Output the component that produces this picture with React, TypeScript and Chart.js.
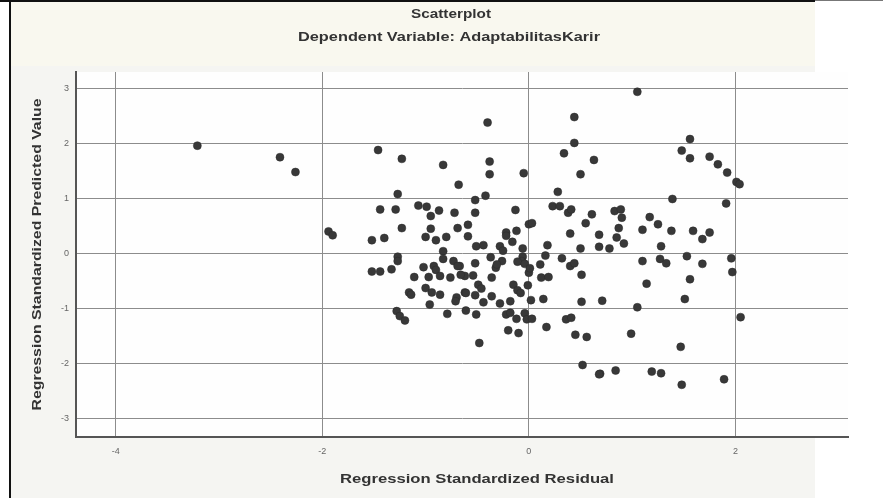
import React, { useEffect, useRef } from "react";
import { Chart, registerables } from "chart.js";

Chart.register(...registerables);

// Regression Standardized Residual (x) and Regression Standardized Predicted Value (y)
const residuals: number[] = [
  -3.21, -2.41, -2.26, -1.94, -1.9, -0.4, 0.44, 0.44, -1.46, -1.23,
  -0.83, 0.34, 0.63, -0.38, -0.38, -0.05, 0.5, -0.68, -1.27, 0.28,
  -0.42, -0.52, -1.44, -1.29, -1.07, -0.99, -0.87, -0.95, -0.72, -0.52,
  -0.13, 0.23, 0.3, 0.38, 0.41, 0.61, 0.55, -1.23, -0.95, -0.69,
  -0.59, -1.52, -1.4, -1.0, -0.9, -0.8, -0.59, 0.0, 0.03, -0.22,
  -0.22, -0.12, -0.16, 0.4, 0.68, 0.18, -0.51, -0.44, -0.28, -0.06,
  0.5, 0.68, 1.05, 1.56, 1.48, 1.56, 1.75, 1.83, 1.92, 2.01,
  2.04, 1.39, 1.91, 0.83, 0.89, 0.9, 1.17, 1.25, 1.1, 0.87,
  1.38, 1.59, 1.75, 1.68, 0.85, 0.92, 1.28, 0.78, 1.1, 1.27,
  1.33, 1.53, 1.68, 1.96, 1.97, 1.56, 1.14, 0.71, 1.51, 1.05,
  2.05, 0.99, 1.47, 0.84, 1.19, 1.28, 0.69, 1.48, 1.89, 0.51,
  0.51, -0.25, -0.06, -0.07, -0.37, 0.16, 0.32, -0.52, -0.26, -0.32,
  -0.31, -0.11, -0.04, 0.11, 0.4, 0.44, -0.67, -0.62, -0.54, -0.36,
  0.0, 0.01, 0.12, 0.19, -0.49, -0.46, -0.62, -0.15, -0.11, -0.08,
  -0.01, -0.52, -0.36, -0.44, -0.28, -0.18, 0.02, 0.14, -0.83, -0.83,
  -1.27, -1.27, -1.52, -1.44, -1.33, -1.02, -0.92, -0.9, -0.73, -0.69,
  -1.11, -0.97, -0.86, -0.76, -0.66, -1.16, -1.14, -1.0, -0.94, -0.86,
  -0.7, -0.71, -0.61, -0.96, -1.28, -1.25, -1.2, -0.79, -0.61, -0.51,
  -0.22, -0.18, -0.12, -0.04, -0.02, 0.03, 0.36, 0.41, -0.2, -0.1,
  0.17, 0.45, 0.56, -0.48, 0.52, 0.68,
];

const predicted: number[] = [
  1.96, 1.75, 1.48, 0.4, 0.33, 2.38, 2.48, 2.01, 1.88, 1.72,
  1.61, 1.82, 1.7, 1.67, 1.44, 1.46, 1.44, 1.25, 1.08, 1.12,
  1.05, 0.97, 0.8, 0.8, 0.87, 0.85, 0.78, 0.68, 0.74, 0.74,
  0.79, 0.86, 0.86, 0.74, 0.8, 0.71, 0.55, 0.46, 0.45, 0.46,
  0.52, 0.24, 0.28, 0.3, 0.24, 0.3, 0.31, 0.53, 0.55, 0.38,
  0.32, 0.41, 0.21, 0.36, 0.34, 0.15, 0.13, 0.15, 0.13, 0.09,
  0.09, 0.12, 2.94, 2.08, 1.87, 1.73, 1.76, 1.62, 1.47, 1.3,
  1.26, 0.99, 0.91, 0.77, 0.8, 0.65, 0.66, 0.53, 0.43, 0.46,
  0.41, 0.41, 0.38, 0.26, 0.29, 0.18, 0.13, 0.09, -0.14, -0.1,
  -0.18, -0.05, -0.19, -0.09, -0.34, -0.47, -0.55, -0.86, -0.83, -0.98,
  -1.16, -1.46, -1.7, -2.13, -2.15, -2.18, -2.19, -2.39, -2.29, -0.39,
  -0.88, 0.05, -0.06, -0.14, -0.07, -0.04, -0.09, -0.18, -0.14, -0.26,
  -0.2, -0.15, -0.19, -0.2, -0.23, -0.18, -0.23, -0.41, -0.4, -0.44,
  -0.35, -0.27, -0.44, -0.43, -0.57, -0.64, -0.71, -0.57, -0.67, -0.72,
  -0.58, -0.76, -0.78, -0.89, -0.91, -0.87, -0.85, -0.83, 0.04, -0.1,
  -0.06, -0.14, -0.33, -0.33, -0.29, -0.25, -0.23, -0.3, -0.14, -0.23,
  -0.43, -0.43, -0.41, -0.44, -0.39, -0.71, -0.75, -0.63, -0.71, -0.75,
  -0.8, -0.87, -0.72, -0.93, -1.05, -1.14, -1.22, -1.1, -1.04, -1.11,
  -1.11, -1.08, -1.19, -1.09, -1.2, -1.19, -1.2, -1.17, -1.4, -1.45,
  -1.34, -1.48, -1.52, -1.63, -2.03, -2.2,
];

const xTicks: number[] = [-4, -2, 0, 2];
const yTicks: number[] = [-3, -2, -1, 0, 1, 2, 3];
const xRange: number[] = [-4.385, 3.09];
const yRange: number[] = [-3.34, 3.3];

const titleText = "Scatterplot";
const subtitleText = "Dependent Variable: AdaptabilitasKarir";
const xTitleText = "Regression Standardized Residual";
const yTitleText = "Regression Standardized Predicted Value";

const FONT = "'Liberation Sans', Arial, sans-serif";
const TEXT_FONT = `bold 13px ${FONT}`;

// Draws a label centred on (cx, cy), stretched along its reading direction to a given length.
function drawStretched(ctx: CanvasRenderingContext2D, text: string, cx: number, cy: number, length: number, rotate: boolean) {
  ctx.save();
  ctx.font = TEXT_FONT;
  ctx.fillStyle = "#333333";
  ctx.textAlign = "center";
  ctx.textBaseline = "middle";
  const w = ctx.measureText(text).width;
  ctx.translate(cx, cy);
  if (rotate) ctx.rotate(-Math.PI / 2);
  ctx.scale(length / w, 1);
  ctx.fillText(text, 0, 0);
  ctx.restore();
}

const backgroundPlugin = {
  id: "spssBackground",
  beforeDraw(chart: any) {
    const { ctx, width, height, chartArea } = chart;
    ctx.save();
    ctx.fillStyle = "#ffffff";
    ctx.fillRect(0, 0, width, height);
    ctx.fillStyle = "#f5f5f2";
    ctx.fillRect(10, 0, 805, height);
    ctx.fillStyle = "#f9f8ef";
    ctx.fillRect(10, 0, 805, 66);
    ctx.fillStyle = "#fefefe";
    ctx.fillRect(chartArea.left, chartArea.top, chartArea.right - chartArea.left, chartArea.bottom - chartArea.top);
    ctx.fillStyle = "#111111";
    ctx.fillRect(0, 0, 815, 2);
    ctx.fillStyle = "#777777";
    ctx.fillRect(815, 0, width - 815, 1);
    ctx.fillStyle = "#111111";
    ctx.fillRect(9, 0, 2, height);
    ctx.restore();
  },
  afterDraw(chart: any) {
    const { ctx, chartArea } = chart;
    drawStretched(ctx, titleText, 451, 14, 80, false);
    drawStretched(ctx, subtitleText, 449, 37, 302, false);
    drawStretched(ctx, xTitleText, 477, 479, 274, false);
    drawStretched(ctx, yTitleText, 37, (chartArea.top + chartArea.bottom) / 2, 312, true);
  },
};

export default function App() {
  const canvasRef = useRef<HTMLCanvasElement | null>(null);

  useEffect(() => {
    const canvas = canvasRef.current;
    if (!canvas) return;
    const points = residuals.map((x, i) => ({ x, y: predicted[i] }));
    const chart = new Chart(canvas, {
      type: "scatter",
      data: {
        datasets: [
          {
            data: points,
            pointRadius: 4,
            pointHoverRadius: 4,
            backgroundColor: "#383838",
            borderColor: "#2a2a2a",
            borderWidth: 0.5,
          },
        ],
      },
      options: {
        animation: false,
        responsive: false,
        devicePixelRatio: 1,
        layout: { padding: { left: 0, right: 35, top: 72, bottom: 0 } },
        plugins: {
          legend: { display: false },
          tooltip: { enabled: false },
          title: { display: false },
          subtitle: { display: false },
        },
        scales: {
          x: {
            type: "linear",
            min: xRange[0],
            max: xRange[1],
            afterBuildTicks: (scale: any) => {
              scale.ticks = xTicks.map((v) => ({ value: v }));
            },
            afterFit: (scale: any) => {
              scale.height = 61;
            },
            ticks: {
              color: "#666666",
              font: { family: FONT, size: 9 },
              padding: 9,
              callback: (v: any) => String(v),
            },
            grid: { color: "#8c8c8c", lineWidth: 1, drawTicks: false },
            border: { display: true, color: "#555555", width: 2 },
            title: { display: false },
          },
          y: {
            type: "linear",
            min: yRange[0],
            max: yRange[1],
            afterBuildTicks: (scale: any) => {
              scale.ticks = yTicks.map((v) => ({ value: v }));
            },
            afterFit: (scale: any) => {
              scale.width = 76;
            },
            ticks: {
              color: "#666666",
              font: { family: FONT, size: 9 },
              padding: 7,
              callback: (v: any) => String(v),
            },
            grid: { color: "#8c8c8c", lineWidth: 1, drawTicks: false },
            border: { display: true, color: "#555555", width: 2 },
            title: { display: false },
          },
        },
      },
      plugins: [backgroundPlugin],
    });
    return () => chart.destroy();
  }, []);

  return (
    <div style={{ position: "absolute", left: 0, top: 0, width: 883, height: 498 }}>
      <canvas ref={canvasRef} width={883} height={498} style={{ display: "block" }} />
    </div>
  );
}
